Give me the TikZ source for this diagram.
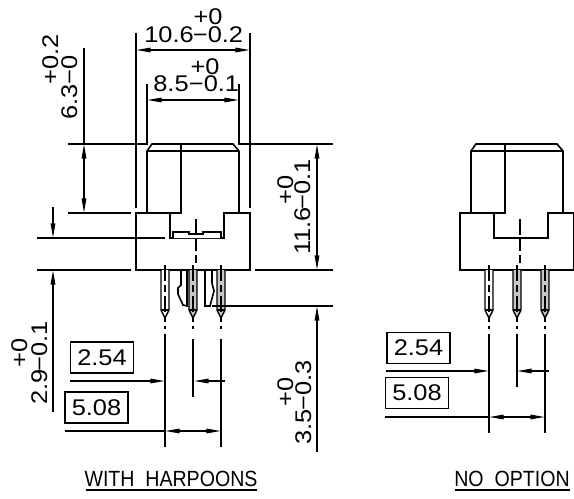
\documentclass[tikz,border=0pt]{standalone}
\usepackage{fontspec}
\setmainfont[FakeStretch=1.12]{Liberation Sans}
\newfontfamily\capfont[FakeStretch=0.89]{Liberation Sans}
\usetikzlibrary{arrows.meta}
\tikzset{
  every node/.style={font=\fontsize{17pt}{20pt}\selectfont},
  body/.style={line width=1.2pt},
  thin line/.style={line width=1.1pt},
  dim/.style={line width=1.1pt,{Stealth[length=11pt,width=3.4pt,inset=0pt]}-{Stealth[length=11pt,width=3.4pt,inset=0pt]}},
  dimto/.style={line width=1.1pt,-{Stealth[length=11pt,width=3.4pt,inset=0pt]}},
  dimtext/.style={inner sep=0pt,anchor=base},
  vdimtext/.style={inner sep=0pt,anchor=base,rotate=90},
  valuebox/.style={draw,line width=1.1pt,inner sep=0pt,minimum width=47.5pt,minimum height=23.5pt},
  caption/.style={inner sep=0pt,anchor=base,font=\capfont\fontsize{16.5pt}{20pt}\selectfont},
  pinline/.style={line width=1.1pt},
  centerline/.style={line width=1pt,dash pattern=on 12pt off 3pt on 9pt off 3pt}
}
\begin{document}
\begin{tikzpicture}[x=0.75pt,y=-0.75pt]
  \useasboundingbox (0,0) rectangle (574,499);

  % Both views
  \foreach \vx in {0,324}{
    \begin{scope}[shift={(\vx,0)}]
      \draw[body] (147,213) -- (147,151) -- (152,144) -- (233,144) -- (239,151) -- (239,213);
      \draw[body] (147,151) -- (239,151);
      \draw[body] (181,144) -- (181,213) -- (136,213) -- (136,270) -- (250,270) -- (250,213)
                  -- (224,213) -- (224,238) -- (170,238) -- (170,213);
      \draw[centerline] (196,219) -- (196,263);
      % Pins
      \foreach \px/\pinfill in {165/white,193/gray!45,221/gray!45}{
        \draw[pinline,fill=\pinfill] (\px-4,270) -- (\px-4,310) -- (\px,318) -- (\px+4,310) -- (\px+4,270);
        \draw[line width=.8pt] (\px-4,310) -- (\px+4,310);
        \draw[line width=1pt,dash pattern=on 12pt off 3pt on 5pt off 3pt] (\px,265) -- (\px,329);
      }
    \end{scope}
  }

  % Harpoons
  \draw[body,fill=white] (173,238) -- (173,232) -- (189,232) -- (189,234) -- (203,234)
        -- (203,232) -- (221,232) -- (221,238);
  \draw[body] (181,270) -- (181,285) -- (178,288) -- (178,294) -- (183,305) -- (187,306) -- (187,270);
  \draw[body] (205,270) -- (205,306) -- (210,306) -- (214,291) -- (212,283) -- (212,270);

  % Coordinates of the dimensions
  \coordinate (wLa) at (136,33);  \coordinate (wLb) at (136,208);
  \coordinate (wRa) at (250,33);  \coordinate (wRb) at (250,208);
  \coordinate (wA) at (136,50);   \coordinate (wB) at (250,50);
  \coordinate (iLa) at (147,84);  \coordinate (iLb) at (147,143);
  \coordinate (iRa) at (239,84);  \coordinate (iRb) at (239,143);
  \coordinate (iA) at (147,100);  \coordinate (iB) at (239,100);
  \coordinate (topLa) at (68,144);  \coordinate (topLb) at (148,144);
  \coordinate (topRa) at (238,144); \coordinate (topRb) at (333,144);
  \coordinate (capa) at (68,213);  \coordinate (capb) at (131,213);
  \coordinate (inna) at (37,238);  \coordinate (innb) at (165,238);
  \coordinate (botLa) at (37,270); \coordinate (botLb) at (131,270);
  \coordinate (botRa) at (255,270);\coordinate (botRb) at (333,270);
  \coordinate (harpa) at (212,306);\coordinate (harpb) at (333,306);
  \coordinate (hA) at (84,48);  \coordinate (hB) at (84,144); \coordinate (hC) at (84,213);
  \coordinate (gA) at (53,207); \coordinate (gB) at (53,238);
  \coordinate (gC) at (53,412); \coordinate (gD) at (53,270);
  \coordinate (tA) at (317,144); \coordinate (tB) at (317,270);
  \coordinate (lA) at (317,452); \coordinate (lB) at (317,306);

  % Dimensions
  \draw[thin line] (wLa) -- (wLb);  \draw[thin line] (wRa) -- (wRb);
  \draw[dim] (wA) -- (wB);
  \draw[thin line] (iLa) -- (iLb);  \draw[thin line] (iRa) -- (iRb);
  \draw[dim] (iA) -- (iB);
  \draw[thin line] (topLa) -- (topLb);  \draw[thin line] (topRa) -- (topRb);
  \draw[thin line] (capa) -- (capb);    \draw[thin line] (inna) -- (innb);
  \draw[thin line] (botLa) -- (botLb);  \draw[thin line] (botRa) -- (botRb);
  \draw[thin line] (harpa) -- (harpb);
  \draw[thin line] (hA) -- (hB);  \draw[dim] (hB) -- (hC);
  \draw[dimto] (gA) -- (gB);      \draw[dimto] (gC) -- (gD);
  \draw[dim] (tA) -- (tB);        \draw[dimto] (lA) -- (lB);

  % Pitch, with harpoons
  \node[valuebox] (pitchA) at (102,357.5) {2.54};
  \node[valuebox] (pitchB) at (96.5,407.5) {5.08};
  \coordinate (paL) at (70,381);  \coordinate (paP) at (165,381);
  \coordinate (paR) at (225,381); \coordinate (paQ) at (194,381);
  \coordinate (pbL) at (65,431);  \coordinate (pbP) at (165,431); \coordinate (pbQ) at (221,431);
  \coordinate (exAa) at (165,334); \coordinate (exAb) at (165,447);
  \coordinate (exBa) at (193,339); \coordinate (exBb) at (193,397);
  \coordinate (exCa) at (221,339); \coordinate (exCb) at (221,447);
  \draw[thin line] (exAa) -- (exAb);
  \draw[thin line] (exBa) -- (exBb);
  \draw[thin line] (exCa) -- (exCb);
  \draw[dimto] (paL) -- (paP);
  \draw[dimto] (paR) -- (paQ);
  \draw[thin line] (pbL) -- (pbP);
  \draw[dim] (pbP) -- (pbQ);

  % Pitch, no option
  \node[valuebox] (pitchC) at (418.5,348) {2.54};
  \node[valuebox] (pitchD) at (417,393) {5.08};
  \coordinate (pcL) at (386,371); \coordinate (pcP) at (489,371);
  \coordinate (pcR) at (549,371); \coordinate (pcQ) at (517,371);
  \coordinate (pdL) at (385,417); \coordinate (pdP) at (489,417); \coordinate (pdQ) at (545,417);
  \coordinate (exDa) at (489,334); \coordinate (exDb) at (489,433);
  \coordinate (exEa) at (517,334); \coordinate (exEb) at (517,387);
  \coordinate (exFa) at (545,334); \coordinate (exFb) at (545,433);
  \draw[thin line] (exDa) -- (exDb);
  \draw[thin line] (exEa) -- (exEb);
  \draw[thin line] (exFa) -- (exFb);
  \draw[dimto] (pcL) -- (pcP);
  \draw[dimto] (pcR) -- (pcQ);
  \draw[thin line] (pdL) -- (pdP);
  \draw[dim] (pdP) -- (pdQ);

  % Labels
  \node[dimtext] (wval) at (169,43) {10.6};
  \node[dimtext] (wlow) at (218,43) {−0.2};
  \node[dimtext] (wup) at (208,25) {+0};
  \node[dimtext] (ival) at (171,92) {8.5};
  \node[dimtext] (ilow) at (214,92) {−0.1};
  \node[dimtext] (iup) at (205,75) {+0};
  \node[vdimtext] (hval) at (77,102) {6.3};
  \node[vdimtext] (hlow) at (77,70) {−0};
  \node[vdimtext] (hup) at (58,59) {+0.2};
  \node[vdimtext] (tval) at (310,231) {11.6};
  \node[vdimtext] (tlow) at (310,184) {−0.1};
  \node[vdimtext] (tup) at (293,190) {+0};
  \node[vdimtext] (gval) at (47,387) {2.9};
  \node[vdimtext] (glow) at (47,346) {−0.1};
  \node[vdimtext] (gup) at (27,353) {+0};
  \node[vdimtext] (lval) at (311,427) {3.5};
  \node[vdimtext] (llow) at (311,385) {−0.3};
  \node[vdimtext] (lup) at (293,392) {+0};

  \node[caption] (withh) at (171,486) {WITH\ \ HARPOONS};
  \node[caption] (noopt) at (512,486) {NO\ \ OPTION};
  \coordinate (withL) at (86,490);  \coordinate (withR) at (257,490);
  \coordinate (noL) at (455,490);   \coordinate (noR) at (570,490);
  \draw[thin line] (withL) -- (withR);
  \draw[thin line] (noL) -- (noR);
\end{tikzpicture}
\end{document}
